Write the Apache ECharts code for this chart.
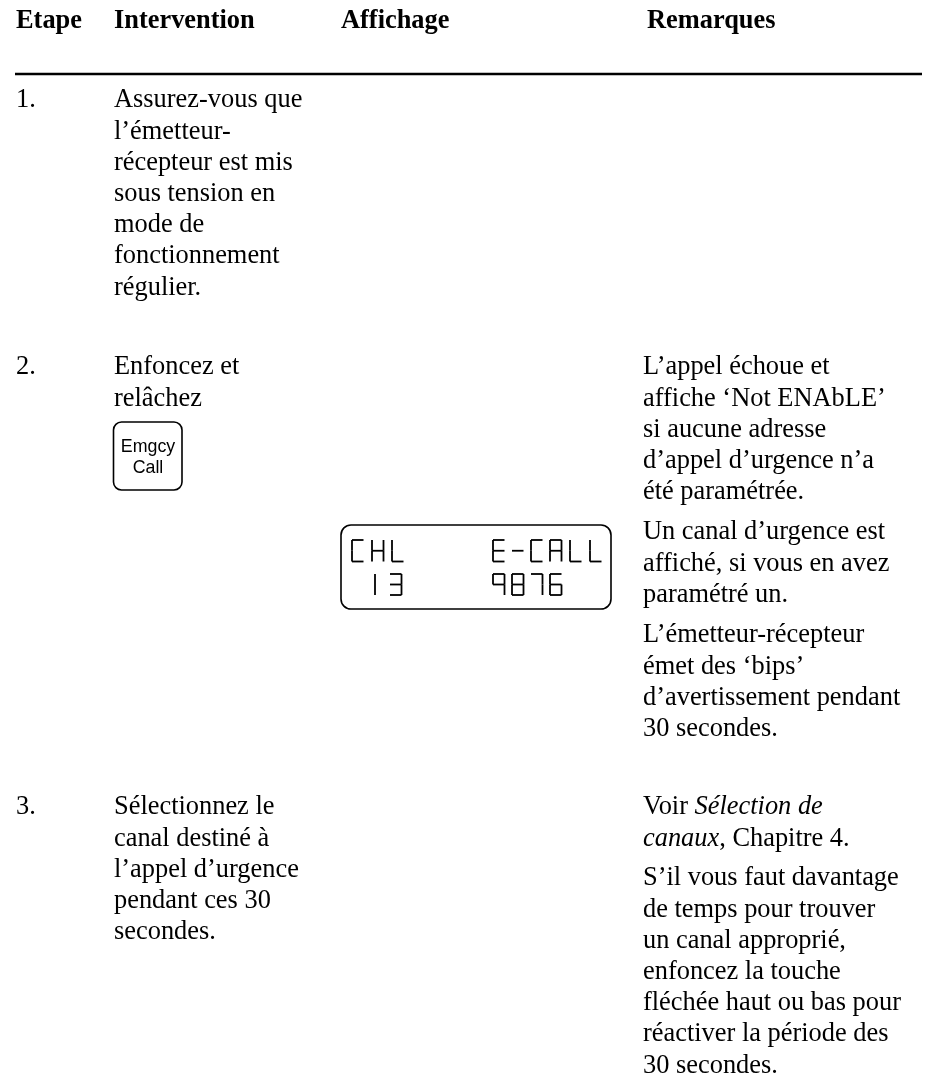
<!DOCTYPE html>
<html><head><meta charset="utf-8">
<style>html,body{margin:0;padding:0;background:#fff}#c{width:928px;height:1077px}</style>
<script src="https://cdn.jsdelivr.net/npm/echarts@6/dist/echarts.min.js"></script>
</head><body><div id="c"></div>
<script>
const headers = [['Etape',16],['Intervention',114],['Affichage',341],['Remarques',647]];
const steps = [['1.',16,100.5],['2.',16,367.5],['3.',16,807.5]];
const intervention = [
  [114,100.5,['Assurez-vous que','l’émetteur-','récepteur est mis','sous tension en','mode de','fonctionnement','régulier.']],
  [114,367.5,['Enfoncez et','relâchez']],
  [114,807.5,['Sélectionnez le','canal destiné à','l’appel d’urgence','pendant ces 30','secondes.']]
];
const remarques = [
  [643,367.5,['L’appel échoue et','affiche ‘Not ENAbLE’','si aucune adresse','d’appel d’urgence n’a','été paramétrée.']],
  [643,532.5,['Un canal d’urgence est','affiché, si vous en avez','paramétré un.']],
  [643,635.5,['L’émetteur-récepteur','émet des ‘bips’','d’avertissement pendant','30 secondes.']],
  [643,807.5,['Voir {i|Sélection de}','{i|canaux}, Chapitre 4.']],
  [643,878.5,['S’il vous faut davantage','de temps pour trouver','un canal approprié,','enfoncez la touche','fléchée haut ou bas pour','réactiver la période des','30 secondes.']]
];
const lcdTop = [['C',352],['H',372],['L',392],['E',493],['-',512],['C',531],['A',550],['L',570],['L',590]];
const lcdBottom = [['1',369],['3',390],['9',493],['8',512],['7',531],['6',550]];
const SEGS = {C:'afed',H:'bcefg',L:'def',E:'adefg','-':'g',A:'abcefg','1':'c1','3':'abcdg','9':'abcfg','8':'abcdefg','7':'abc','6':'acdefg'};

const SERIF = '"Liberation Serif","Times New Roman",serif';
const FS = 26.4, LH = 31.2;
const g = [];
function txt(x,y,s,font){g.push({type:'text',x,y,silent:true,style:{text:s,fill:'#000',font:font||(FS+'px '+SERIF),verticalAlign:'middle'}});}
headers.forEach(h=>txt(h[1],21,h[0],'bold '+FS+'px '+SERIF));
g.push({type:'rect',shape:{x:15,y:72.7,width:907,height:2.6},style:{fill:'#000'},silent:true});
steps.forEach(s=>txt(s[1],s[2],s[0]));
function block(b){b[2].forEach((l,i)=>{
  g.push({type:'text',x:b[0],y:b[1]+i*LH,silent:true,style:{text:l,fill:'#000',font:FS+'px '+SERIF,verticalAlign:'middle',
    rich:{i:{font:'italic '+FS+'px '+SERIF,fill:'#000'}}}});
});}
intervention.forEach(block);
remarques.forEach(block);
// key
g.push({type:'rect',shape:{x:113.5,y:422,width:68.5,height:68,r:8},style:{fill:'#fff',stroke:'#000',lineWidth:1.6},silent:true});
g.push({type:'text',x:148,y:447,silent:true,style:{text:'Emgcy',fill:'#000',font:'17.8px "Liberation Sans",Arial,sans-serif',align:'center',verticalAlign:'middle'}});
g.push({type:'text',x:148,y:468,silent:true,style:{text:'Call',fill:'#000',font:'17.8px "Liberation Sans",Arial,sans-serif',align:'center',verticalAlign:'middle'}});
// display
g.push({type:'rect',shape:{x:341,y:525,width:270,height:84,r:10},style:{fill:'#fff',stroke:'#000',lineWidth:1.6},silent:true});
function glyph(ch,x,y,w,h){
  const m=y+h/2,r=x+w,b=y+h;
  const L={a:[x,y,r,y],b:[r,y,r,m],c:[r,m,r,b],d:[x,b,r,b],e:[x,m,x,b],f:[x,y,x,m],g:[x,m,r,m]};
  if(ch==='1'){g.push({type:'line',shape:{x1:x+6,y1:y,x2:x+6,y2:b},style:{stroke:'#000',lineWidth:1.8},silent:true});return;}
  SEGS[ch].split('').forEach(k=>{const p=L[k];g.push({type:'line',shape:{x1:p[0],y1:p[1],x2:p[2],y2:p[3]},style:{stroke:'#000',lineWidth:1.8},silent:true});});
}
lcdTop.forEach(c=>glyph(c[0],c[1],540,11.5,21.5));
lcdBottom.forEach(c=>glyph(c[0],c[1],574,11.5,21));
const chart=echarts.init(document.getElementById('c'),null,{renderer:'canvas'});
chart.setOption({backgroundColor:'#fff',animation:false,graphic:{elements:g}});
</script></body></html>
